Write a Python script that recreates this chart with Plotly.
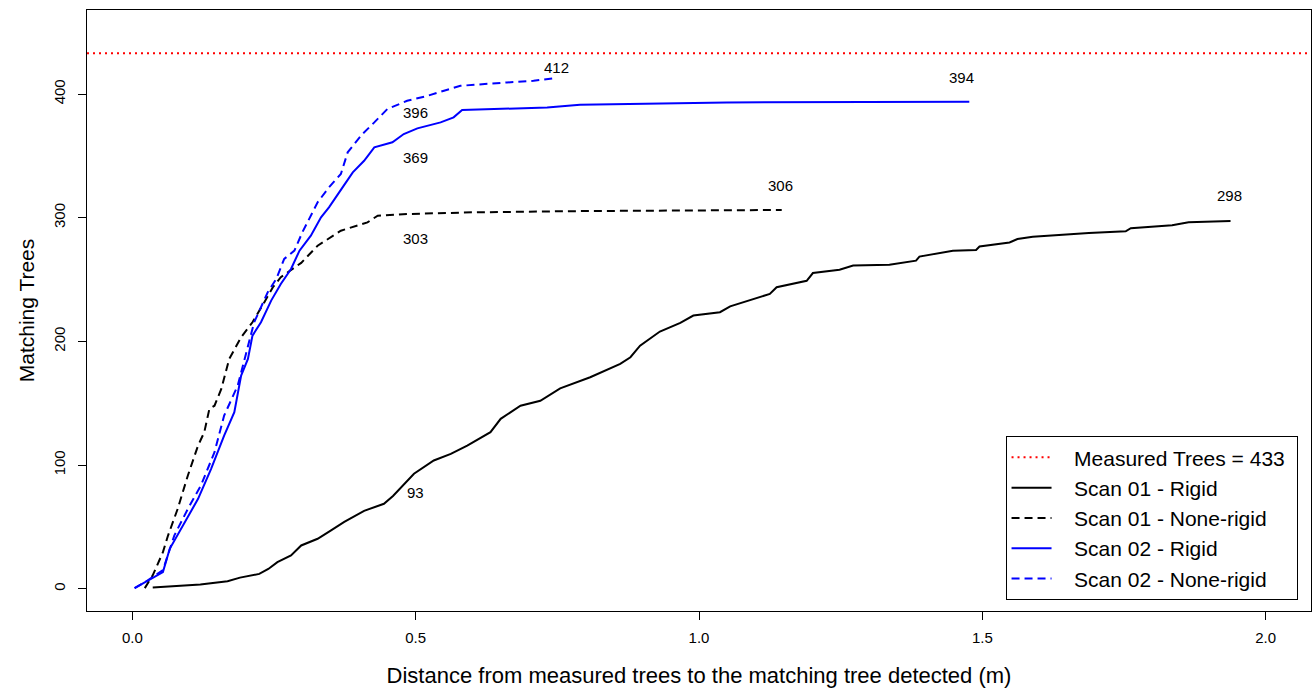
import plotly.graph_objects as go

measured_trees = 433

s1_rigid_x = [0.036, 0.08, 0.12, 0.168, 0.19, 0.224, 0.24, 0.256, 0.28, 0.298, 0.327, 0.35, 0.374, 0.409,
              0.444, 0.46, 0.474, 0.497, 0.532, 0.562, 0.591, 0.632, 0.65, 0.685, 0.72, 0.755, 0.808,
              0.861, 0.879, 0.896, 0.931, 0.967, 0.99, 1.037, 1.055, 1.125, 1.137, 1.19, 1.201, 1.248,
              1.272, 1.336, 1.383, 1.389, 1.448, 1.489, 1.495, 1.548, 1.562, 1.589, 1.688, 1.753,
              1.762, 1.835, 1.864, 1.938]
s1_rigid_y = [1, 2, 3.5, 6, 9, 12, 16, 21.5, 27, 35, 40.4, 47, 54, 63,
              68.7, 75, 82, 93, 103.7, 109, 115.8, 126.6, 137.4, 148, 152, 162, 171,
              181.8, 187.2, 196.6, 208, 215, 220.9, 223.6, 228.4, 238.4, 243.8, 249, 255.3, 258,
              261.3, 262, 265.3, 268.6, 273.4, 274, 276.7, 280, 282.8, 284.7, 287.7, 289,
              291.5, 294, 296.3, 297.4]

s1_nonrigid_x = [0.022, 0.036, 0.054, 0.063, 0.080, 0.098, 0.116, 0.127, 0.136, 0.145, 0.157, 0.171,
                 0.192, 0.212, 0.233, 0.248, 0.262, 0.274, 0.298, 0.327, 0.368, 0.415, 0.433, 0.485,
                 0.603, 0.79, 1.146]
s1_nonrigid_y = [0.5, 10.8, 29.6, 43, 64.6, 91.6, 115.8, 126.6, 145.5, 148, 161.6, 185.9,
                 203.4, 215.5, 231.7, 243.8, 251.9, 255.9, 263.5, 277.4, 289.5, 296.3, 301.7, 303,
                 304.4, 305.4, 306.3]

s2_rigid_x = [0.004, 0.028, 0.054, 0.066, 0.086, 0.116, 0.139, 0.162, 0.180, 0.192, 0.204, 0.212,
              0.227, 0.245, 0.262, 0.280, 0.295, 0.315, 0.333, 0.347, 0.371, 0.389, 0.409, 0.427,
              0.459, 0.479, 0.503, 0.544, 0.567, 0.582, 0.732, 0.790, 1.049, 1.477]
s2_rigid_y = [0.5, 6.7, 13.5, 32.3, 48.5, 72.7, 97, 123.9, 142.8, 172.4, 185.9, 204.7,
              215.5, 233, 246.5, 258.6, 273.4, 285.5, 300.3, 308.4, 324.6, 336.7, 346.1, 356.9,
              361, 367.7, 372.3, 377.1, 381.2, 387.1, 389.2, 391.4, 393.3, 393.8]

s2_nonrigid_x = [0.004, 0.028, 0.054, 0.074, 0.098, 0.121, 0.145, 0.162, 0.186, 0.204, 0.215, 0.239,
                 0.254, 0.268, 0.286, 0.300, 0.327, 0.347, 0.368, 0.380, 0.406, 0.427, 0.450, 0.485,
                 0.521, 0.550, 0.579, 0.661, 0.708, 0.741]
s2_nonrigid_y = [0.5, 7, 15, 43, 64.6, 83.5, 110.4, 140, 164.3, 196.6, 215.5, 239.8,
                 250.5, 266.7, 273.4, 288.2, 312.5, 324.6, 335.4, 352.9, 367.7, 377.1, 387.9, 394.6,
                 398.6, 402.7, 406.7, 409.4, 410.7, 412.7]

label_text = ["396", "369", "303", "93", "412", "394", "306", "298"]
label_x = [0.5, 0.5, 0.5, 0.5, 0.748, 1.463, 1.144, 1.937]
label_y = [385.5, 349.1, 283, 77.6, 421.8, 413.7, 325.7, 317.6]

legend_names = ["Measured Trees = 433", "Scan 01 - Rigid", "Scan 01 - None-rigid",
                "Scan 02 - Rigid", "Scan 02 - None-rigid"]

x_ticks = [0.0, 0.5, 1.0, 1.5, 2.0]
x_ticktext = ["0.0", "0.5", "1.0", "1.5", "2.0"]
y_ticks = [0, 100, 200, 300, 400]

FONT = "Arial, Liberation Sans, sans-serif"
PAD = "\u00a0\u00a0\u00a0"

fig = go.Figure()

fig.add_hline(y=measured_trees, line=dict(color="red", width=2, dash="2px,4px"))

fig.add_trace(go.Scatter(x=[None], y=[None], mode="lines", name=PAD + legend_names[0] + "\u00a0",
                         line=dict(color="red", width=2, dash="2px,4px")))
fig.add_trace(go.Scatter(x=s1_rigid_x, y=s1_rigid_y, mode="lines", name=PAD + legend_names[1],
                         line=dict(color="black", width=2)))
fig.add_trace(go.Scatter(x=s1_nonrigid_x, y=s1_nonrigid_y, mode="lines", name=PAD + legend_names[2],
                         line=dict(color="black", width=2, dash="8px,5px")))
fig.add_trace(go.Scatter(x=s2_rigid_x, y=s2_rigid_y, mode="lines", name=PAD + legend_names[3],
                         line=dict(color="blue", width=2)))
fig.add_trace(go.Scatter(x=s2_nonrigid_x, y=s2_nonrigid_y, mode="lines", name=PAD + legend_names[4],
                         line=dict(color="blue", width=2, dash="8px,5px")))

for t, x, y in zip(label_text, label_x, label_y):
    fig.add_annotation(x=x, y=y, text=t, showarrow=False, xref="x", yref="y",
                       font=dict(family=FONT, size=15, color="black"))

fig.update_layout(
    width=1313, height=689,
    margin=dict(l=87, r=2, t=10, b=78, autoexpand=False),
    paper_bgcolor="white", plot_bgcolor="white",
    font=dict(family=FONT, color="black"),
    showlegend=True,
    legend=dict(x=0.989, y=0.018, xanchor="right", yanchor="bottom",
                bordercolor="black", borderwidth=1, bgcolor="white",
                font=dict(family=FONT, size=21, color="black"),
                itemwidth=40, tracegroupgap=0),
    xaxis=dict(range=[-0.08, 2.08], showgrid=False, zeroline=False, automargin=False,
               showline=True, mirror=True, linecolor="black", linewidth=1,
               ticks="outside", ticklen=8, tickcolor="black",
               tickvals=x_ticks, ticktext=x_ticktext,
               tickfont=dict(family=FONT, size=15),
               ticklabelstandoff=5,
               title=dict(text="Distance from measured trees to the matching tree detected (m)",
                          font=dict(family=FONT, size=22), standoff=22)),
    yaxis=dict(range=[-18, 468], showgrid=False, zeroline=False, automargin=False,
               showline=True, mirror=True, linecolor="black", linewidth=1,
               ticks="outside", ticklen=8, tickcolor="black",
               tickvals=y_ticks, tickangle=-90,
               tickfont=dict(family=FONT, size=15),
               ticklabelstandoff=7,
               title=dict(text="Matching Trees", font=dict(family=FONT, size=21), standoff=10)),
)

fig.write_html("out.html", config={"displayModeBar": False},
               post_script="document.body.style.margin='0';")
